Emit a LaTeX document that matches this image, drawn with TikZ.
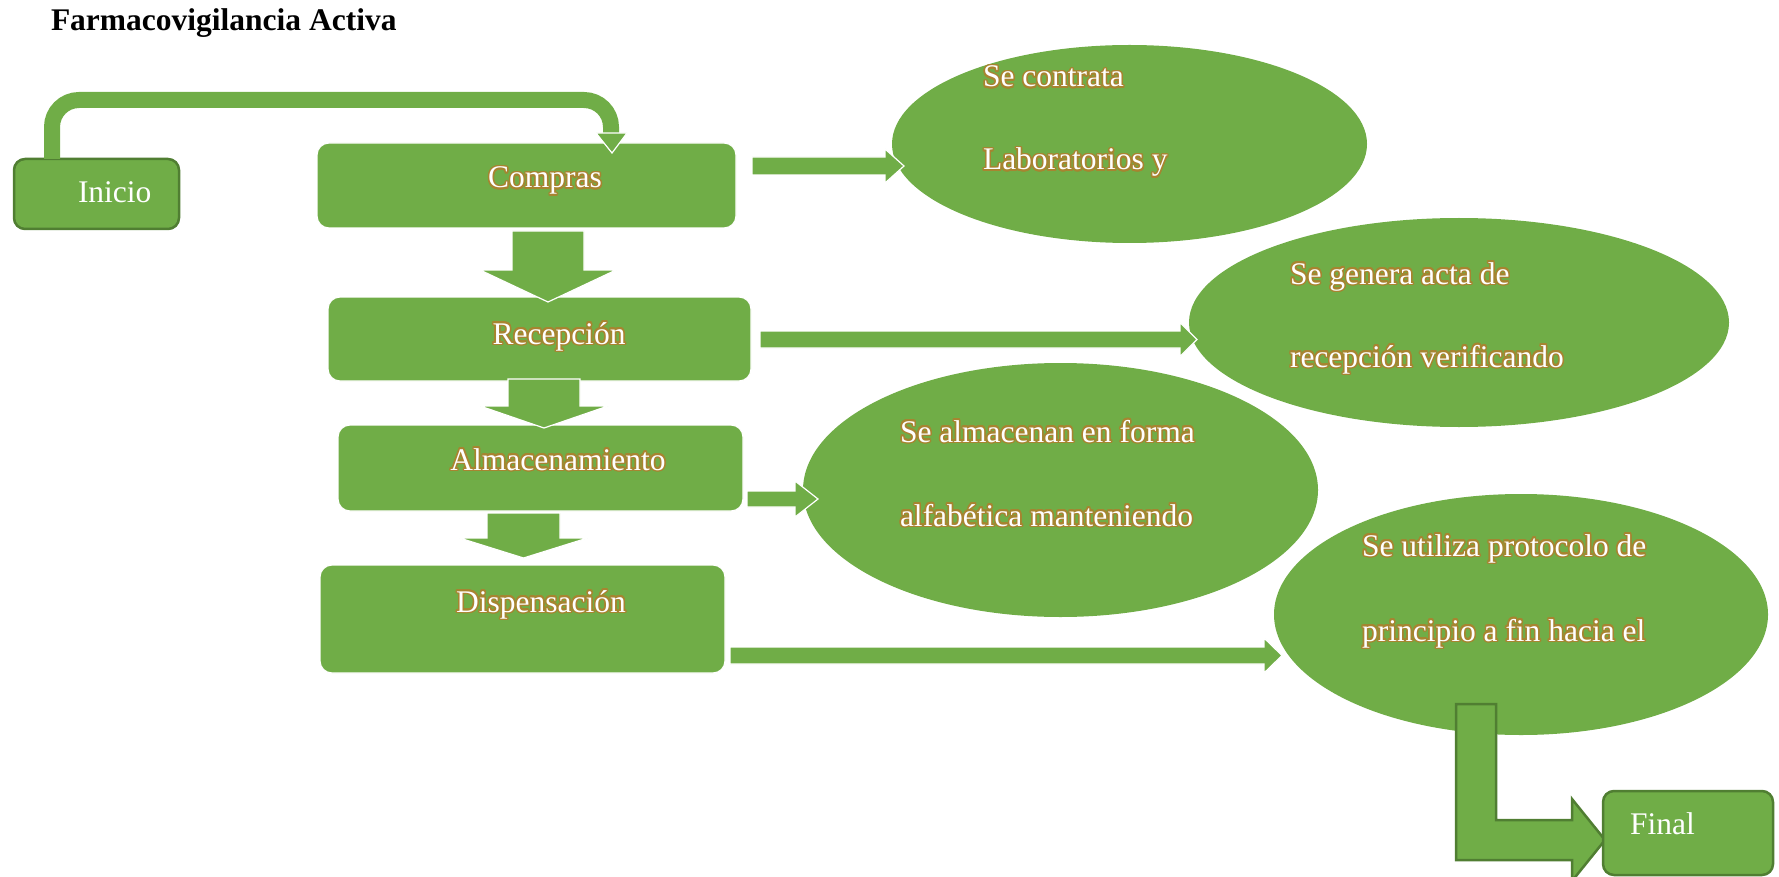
\documentclass[tikz,border=0pt]{standalone}
\usepackage{fontspec}
\setmainfont{Liberation Serif}
\usepackage{contour}
\contourlength{1.5pt}
\usetikzlibrary{shapes.geometric}
\definecolor{gfill}{HTML}{70AD47}
\definecolor{gdark}{HTML}{507E32}
\definecolor{glowc}{RGB}{168,132,48}
\newcommand\harrowshape[6]{% x1, xbase, xtip, yc, halfshaft, halfhead
  \filldraw[blockarrow] (#1,{#4-#5}) -- (#2,{#4-#5}) -- (#2,{#4-#6}) -- (#3,#4) -- (#2,{#4+#6}) -- (#2,{#4+#5}) -- (#1,{#4+#5}) -- cycle;}
\newcommand\varrowshape[6]{% y1, ybase, ytip, xc, halfshaft, halfhead
  \filldraw[blockarrow] ({#4-#5},#1) -- ({#4-#5},#2) -- ({#4-#6},#2) -- (#4,#3) -- ({#4+#6},#2) -- ({#4+#5},#2) -- ({#4+#5},#1) -- cycle;}
\begin{document}
\begin{tikzpicture}[x=1pt,y=-1pt,
  every node/.style={inner sep=0pt, outer sep=0pt},
  box/.style={draw=white, line width=1.2pt, fill=gfill, rounded corners=12pt, rectangle},
  darkbox/.style={draw=gdark, line width=2.5pt, fill=gfill, rounded corners=11pt, rectangle},
  oval/.style={ellipse, fill=gfill, draw=none},
  blockarrow/.style={fill=gfill, draw=white, line width=1.2pt, line join=miter},
  lbl/.style={text=white, font=\fontsize{31.5}{38}\selectfont},
]
\useasboundingbox (0,0) rectangle (1779,877);
\clip (0,0) rectangle (1779,877);

% title
\node[anchor=base west, font=\bfseries\fontsize{31.5}{38}\selectfont] (title) at (51,31) {Farmacovigilancia Activa};

% ellipses
\node[oval, minimum width=475, minimum height=198] (e1) at (1129.5,144) {};
\node[oval, minimum width=540, minimum height=209] (e2) at (1459,322.5) {};
\node[oval, minimum width=515, minimum height=254] (e3) at (1060.5,490) {};
\node[oval, minimum width=494, minimum height=241] (e4) at (1521,614.5) {};

% boxes
\node[darkbox, minimum width=165, minimum height=70] (inicio) at (96.5,194) {};
\node[box, minimum width=419, minimum height=85] (compras) at (526.5,185.5) {};
\node[box, minimum width=423, minimum height=84] (recep) at (539.5,339) {};
\node[box, minimum width=405, minimum height=86] (almac) at (540.5,468) {};
\node[box, minimum width=405, minimum height=108] (disp) at (522.5,619) {};

% curved arrow Inicio -> Compras
\draw[gfill, line width=16pt, rounded corners=27pt] (inicio.north -| 52,0) -- (52,100) -- (611,100) -- (611,134);
\filldraw[blockarrow] (596,133) -- (627,133) -- (612,153) -- cycle;

% down arrows
\varrowshape{231}{270}{302}{548}{36}{68}
\varrowshape{379}{406}{428}{544}{36}{64}
\varrowshape{513}{538}{558}{523.5}{36.5}{64}

% horizontal arrows
\harrowshape{752}{885}{904}{166}{9}{17}
\harrowshape{760}{1180}{1197}{339.5}{8.5}{17}
\harrowshape{747}{795}{818}{499}{8}{18}
\harrowshape{730}{1264}{1282}{655.5}{8.5}{17.5}

% bent arrow to Final
\filldraw[fill=gfill, draw=gdark, line width=2.5pt, line join=miter]
  (1456,704) -- (1496,704) -- (1496,820) -- (1572,820) -- (1572,799) -- (1605,840)
  -- (1572,881) -- (1572,860) -- (1456,860) -- cycle;
\node[darkbox, minimum width=170, minimum height=84] (final) at (1688,833) {};

% box labels
\node[lbl, anchor=base west] (tinicio) at (78,203) {Inicio};
\node[lbl, anchor=base] (tcompras) at (545,188) {\contour{glowc}{Compras}};
\node[lbl, anchor=base] (trecep) at (559,344) {\contour{glowc}{Recepción}};
\node[lbl, anchor=base] (talmac) at (558,470) {\contour{glowc}{Almacenamiento}};
\node[lbl, anchor=base] (tdisp) at (541,612) {\contour{glowc}{Dispensación}};
\node[lbl, anchor=base west] (tfinal) at (1630,834) {Final};

% ellipse labels
\node[lbl, anchor=base west] (e1a) at (983,87) {\contour{glowc}{Se contrata}};
\node[lbl, anchor=base west] (e1b) at (983,170) {\contour{glowc}{Laboratorios y}};
\node[lbl, anchor=base west] (e2a) at (1290,284) {\contour{glowc}{Se genera acta de}};
\node[lbl, anchor=base west] (e2b) at (1290,367) {\contour{glowc}{recepción verificando}};
\node[lbl, anchor=base west] (e3a) at (900,442) {\contour{glowc}{Se almacenan en forma}};
\node[lbl, anchor=base west] (e3b) at (900,526) {\contour{glowc}{alfabética manteniendo}};
\node[lbl, anchor=base west] (e4a) at (1362,556) {\contour{glowc}{Se utiliza protocolo de}};
\node[lbl, anchor=base west] (e4b) at (1362,641) {\contour{glowc}{principio a fin hacia el}};
\end{tikzpicture}
\end{document}
